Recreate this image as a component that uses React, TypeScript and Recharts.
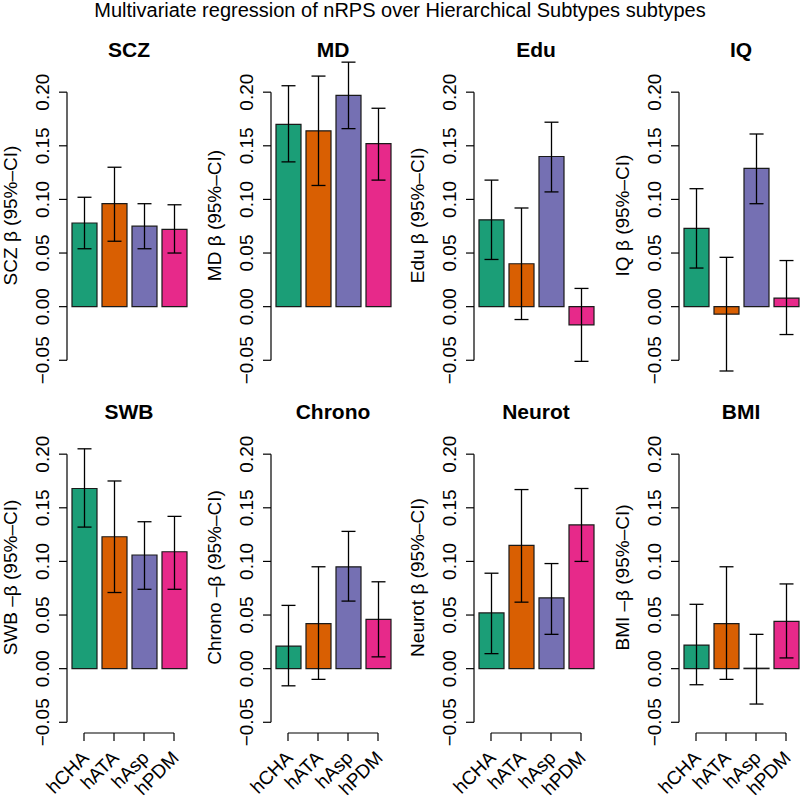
import React from "react";
import { BarChart, Bar, XAxis, YAxis, Cell, ErrorBar, ReferenceLine } from "recharts";

const SUBTYPES = ["hCHA", "hATA", "hAsp", "hPDM"];
const COLORS = ["#1B9E77", "#D95F02", "#7570B3", "#E7298A"];
const Y_TICKS = [-0.05, 0, 0.05, 0.1, 0.15, 0.2];
const Y_DOMAIN = [-0.06, 0.23];

// beta estimates and 95% CI bounds per trait
const SCZ_BETA = [0.078, 0.096, 0.075, 0.072];
const SCZ_LO = [0.054, 0.061, 0.054, 0.05];
const SCZ_HI = [0.102, 0.13, 0.096, 0.095];

const MD_BETA = [0.17, 0.164, 0.197, 0.152];
const MD_LO = [0.135, 0.113, 0.166, 0.118];
const MD_HI = [0.206, 0.215, 0.228, 0.185];

const EDU_BETA = [0.081, 0.04, 0.14, -0.017];
const EDU_LO = [0.044, -0.012, 0.107, -0.051];
const EDU_HI = [0.118, 0.092, 0.172, 0.017];

const IQ_BETA = [0.073, -0.007, 0.129, 0.008];
const IQ_LO = [0.036, -0.06, 0.096, -0.026];
const IQ_HI = [0.11, 0.046, 0.161, 0.043];

const SWB_BETA = [0.168, 0.123, 0.106, 0.109];
const SWB_LO = [0.132, 0.071, 0.074, 0.074];
const SWB_HI = [0.205, 0.175, 0.137, 0.142];

const CHRONO_BETA = [0.021, 0.042, 0.095, 0.046];
const CHRONO_LO = [-0.016, -0.01, 0.063, 0.011];
const CHRONO_HI = [0.059, 0.095, 0.128, 0.081];

const NEUROT_BETA = [0.052, 0.115, 0.066, 0.134];
const NEUROT_LO = [0.014, 0.062, 0.032, 0.1];
const NEUROT_HI = [0.089, 0.167, 0.098, 0.168];

const BMI_BETA = [0.022, 0.042, 0.0004, 0.044];
const BMI_LO = [-0.015, -0.01, -0.033, 0.01];
const BMI_HI = [0.06, 0.095, 0.032, 0.079];

const PANELS = [
  { title: "SCZ", label: "SCZ β (95%–CI)", beta: SCZ_BETA, lo: SCZ_LO, hi: SCZ_HI },
  { title: "MD", label: "MD β (95%–CI)", beta: MD_BETA, lo: MD_LO, hi: MD_HI },
  { title: "Edu", label: "Edu β (95%–CI)", beta: EDU_BETA, lo: EDU_LO, hi: EDU_HI },
  { title: "IQ", label: "IQ β (95%–CI)", beta: IQ_BETA, lo: IQ_LO, hi: IQ_HI },
  { title: "SWB", label: "SWB –β (95%–CI)", beta: SWB_BETA, lo: SWB_LO, hi: SWB_HI },
  { title: "Chrono", label: "Chrono –β (95%–CI)", beta: CHRONO_BETA, lo: CHRONO_LO, hi: CHRONO_HI },
  { title: "Neurot", label: "Neurot β (95%–CI)", beta: NEUROT_BETA, lo: NEUROT_LO, hi: NEUROT_HI },
  { title: "BMI", label: "BMI –β (95%–CI)", beta: BMI_BETA, lo: BMI_LO, hi: BMI_HI },
];

const FONT = '"Liberation Sans", Arial, Helvetica, sans-serif';

// layout
const AXIS_X = [67, 271, 474, 679];
const ROW_TOP = [60, 422];
const PLOT_H = 311;
const PLOT_W = 124;
const Y_AXIS_W = 67;
const PAD = 10;

const fmt = (v: number) => (v < 0 ? "\u2212" + Math.abs(v).toFixed(2) : v.toFixed(2));

const YTick = ({ x, y, payload }: any) => (
  <text
    x={x - 9.5}
    y={y}
    transform={`rotate(-90, ${x - 9.5}, ${y})`}
    textAnchor="middle"
    fontSize={19}
    fontFamily={FONT}
    fill="#000"
  >
    {fmt(payload.value)}
  </text>
);

const XTick = ({ x, y, payload }: any) => (
  <text
    x={x + 6}
    y={y + 18}
    transform={`rotate(-45, ${x + 6}, ${y + 18})`}
    textAnchor="end"
    fontSize={19}
    fontFamily={FONT}
    fill="#000"
  >
    {payload.value}
  </text>
);

function Panel({ panel, index }: any) {
  const col = index % 4;
  const row = Math.floor(index / 4);
  const showX = row === 1;
  const data = SUBTYPES.map((name, i) => ({
    name,
    beta: panel.beta[i],
    err: [panel.beta[i] - panel.lo[i], panel.hi[i] - panel.beta[i]],
  }));
  const xHeight = 60;
  const bottom = showX ? 6 : 24;
  const height = PAD + PLOT_H + (showX ? xHeight : 0) + bottom;

  return (
    <div style={{ position: "absolute", left: AXIS_X[col] - Y_AXIS_W, top: ROW_TOP[row] - PAD }}>
      <BarChart
        width={Y_AXIS_W + PLOT_W + 4}
        height={height}
        data={data}
        margin={{ top: PAD, right: 4, left: 0, bottom }}
        style={{ overflow: "visible" }}
      >
        <XAxis
          dataKey="name"
          hide={!showX}
          padding={{ left: 2, right: 2 }}
          axisLine={false}
          tickSize={8}
          tickMargin={0}
          tickLine={{ stroke: "#000", strokeWidth: 1.2 }}
          tick={<XTick />}
          interval={0}
          height={xHeight}
        />
        <XAxis xAxisId="frame" type="number" domain={[0, 1]} hide />
        <YAxis
          width={Y_AXIS_W}
          domain={Y_DOMAIN}
          ticks={Y_TICKS}
          interval={0}
          axisLine={false}
          tickSize={8}
          tickMargin={0}
          tickLine={{ stroke: "#000", strokeWidth: 1.2 }}
          tick={<YTick />}
        />
        <ReferenceLine
          xAxisId="frame"
          segment={[
            { x: 0, y: Y_TICKS[0] },
            { x: 0, y: Y_TICKS[Y_TICKS.length - 1] },
          ]}
          stroke="#000"
          strokeWidth={1.2}
          ifOverflow="visible"
        />
        {showX && (
          <ReferenceLine
            segment={[
              { x: SUBTYPES[0], y: Y_DOMAIN[0] },
              { x: SUBTYPES[SUBTYPES.length - 1], y: Y_DOMAIN[0] },
            ]}
            stroke="#000"
            strokeWidth={1.2}
            ifOverflow="visible"
          />
        )}
        <Bar dataKey="beta" barSize={25} stroke="#1a1a1a" strokeWidth={1.2} isAnimationActive={false}>
          {data.map((d, i) => (
            <Cell key={d.name} fill={COLORS[i]} />
          ))}
          <ErrorBar dataKey="err" direction="y" width={7} stroke="#000" strokeWidth={1.3} isAnimationActive={false} />
        </Bar>
      </BarChart>
    </div>
  );
}

export default function App() {
  return (
    <div
      style={{
        position: "absolute",
        left: 0,
        top: 0,
        width: 800,
        height: 798,
        overflow: "hidden",
        background: "#fff",
        fontFamily: FONT,
      }}
    >
      {PANELS.map((p, i) => (
        <Panel key={p.title} panel={p} index={i} />
      ))}

      {/* titles and y-axis labels */}
      <svg width={800} height={798} style={{ position: "absolute", left: 0, top: 0, pointerEvents: "none" }}>
        <text x={400} y={16.5} textAnchor="middle" fontSize={20} fontFamily={FONT} fill="#000">
          Multivariate regression of nRPS over Hierarchical Subtypes subtypes
        </text>
        {PANELS.map((p, i) => {
          const col = i % 4;
          const row = Math.floor(i / 4);
          const cx = AXIS_X[col] + PLOT_W / 2;
          const lx = AXIS_X[col] - 50;
          const ly = ROW_TOP[row] + PLOT_H / 2;
          return (
            <g key={p.title}>
              <text
                x={cx}
                y={ROW_TOP[row] - 3.5}
                textAnchor="middle"
                fontSize={21}
                fontWeight="bold"
                fontFamily={FONT}
                fill="#000"
              >
                {p.title}
              </text>
              <text
                x={lx}
                y={ly}
                transform={`rotate(-90, ${lx}, ${ly})`}
                textAnchor="middle"
                fontSize={19}
                fontFamily={FONT}
                fill="#000"
              >
                {p.label}
              </text>
            </g>
          );
        })}
      </svg>
    </div>
  );
}
